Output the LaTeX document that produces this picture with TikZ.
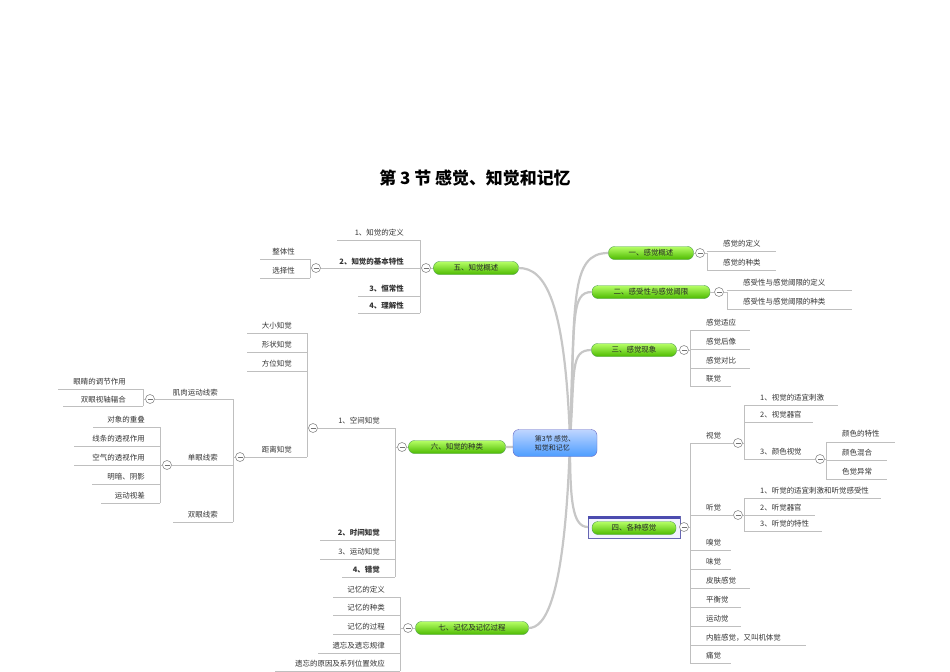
\documentclass[tikz,border=0pt]{standalone}
\usepackage{fontspec}
\setmainfont{Noto Sans CJK SC}
\newfontfamily\titlefont{Noto Sans CJK SC}
\begin{document}
\begin{tikzpicture}[x=1bp,y=-1bp,
  lbl/.style={font=\fontsize{7.5}{9}\selectfont,inner sep=0pt,text=black!80},
  bl/.style={lbl,font=\fontsize{7.5}{9}\selectfont\bfseries},
  uline/.style={draw=black!25,line width=0.6bp},
  mcirc/.style={circle,draw=black!45,fill=white,minimum size=9bp,inner sep=0pt,line width=0.6bp},
  pill/.style={rounded corners=6bp,draw=green!45!black!70,line width=0.4bp,top color=green!30!lime!60,bottom color=green!55!black!60!lime,minimum height=13bp,inner sep=1bp,font=\fontsize{7.5}{9}\selectfont,text=black!85},
  trunk/.style={draw=black!22,line width=2.2bp}]
\newcommand\lR[4]{\node[lbl,anchor=west] (#1) at (#2,#3) {#4};}
\newcommand\lL[4]{\node[lbl,anchor=east] (#1) at (#2,#3) {#4};}
\newcommand\bL[4]{\node[bl,anchor=east] (#1) at (#2,#3) {#4};}
\newcommand\uln[3]{\draw[uline] (#1,#3)--(#2,#3);}
\newcommand\mc[3]{\node[mcirc] (#1) at (#2,#3) {};\draw[black!55,line width=0.6bp] ([xshift=-2.5bp]#1.center)--([xshift=2.5bp]#1.center);}
\useasboundingbox (0,0) rectangle (950,672);
\fill[white] (0,0) rectangle (950,672);
\node[font=\titlefont\fontsize{17}{20}\selectfont\bfseries] (title) at (475,178) {第 3 节 感觉、知觉和记忆};
% center
\coordinate (hub) at (570,440);
% pills
\node[pill,minimum width=85bp] (p1) at (651,253) {一、感觉概述};
\node[pill,minimum width=118bp] (p2) at (651,292) {二、感受性与感觉阈限};
\node[pill,minimum width=85bp] (p3) at (634,350) {三、感觉现象};
\draw[draw=blue!50!black!60,line width=0.8bp,fill=blue!5] (588,516) rectangle (680,538);
\fill[blue!55!black!70] (588,516) rectangle (680,519);
\node[pill,minimum width=84bp] (p4) at (634,528) {四、各种感觉};
\node[pill,minimum width=85bp] (p5) at (476,268) {五、知觉概述};
\node[pill,minimum width=97bp] (p6) at (457,447) {六、知觉的种类};
\node[pill,minimum width=113bp] (p7) at (472,628) {七、记忆及记忆过程};
\begin{scope}[on background layer/.style={}]
\draw[trunk] (hub) .. controls (575,300) and (570,253) .. (p1.west);
\draw[trunk] (hub) .. controls (575,320) and (570,292) .. (p2.west);
\draw[trunk] (hub) .. controls (575,370) and (570,350) .. (p3.west);
\draw[trunk] (hub) .. controls (570,500) and (572,527) .. (588,527);
\draw[trunk] (hub) .. controls (565,300) and (545,268) .. (p5.east);
\draw[trunk] (hub) .. controls (540,445) and (520,447) .. (p6.east);
\draw[trunk] (hub) .. controls (565,600) and (545,628) .. (p7.east);
\end{scope}
\node[rounded corners=6bp,draw=blue!60!black!60,top color=cyan!35!blue!25,bottom color=blue!55!cyan!70,minimum width=84bp,minimum height=27bp,align=left,font=\fontsize{7}{9}\selectfont,text=black!85,inner sep=2bp] (c) at (555,443) {第3节 感觉、\\知觉和记忆};
% ---- group 1
\mc{m1}{700}{253}
\draw[uline] (p1.east)--(m1.west); \draw[uline] (m1.east)--(707,253)--(707,270);
\lR{a11}{723}{244}{感觉的定义}\uln{707}{776}{251}
\lR{a12}{723}{263}{感觉的种类}\uln{707}{776}{270}
% ---- group 2
\mc{m2}{719}{292}
\draw[uline] (m2.east)--(727,292)--(727,309); \draw[uline] (p2.east)--(m2.west);
\lR{a21}{743}{283}{感受性与感觉阈限的定义}\uln{727}{852}{290}
\lR{a22}{743}{302}{感受性与感觉阈限的种类}\uln{727}{852}{309}
% ---- group 3
\mc{m3}{684}{350}
\draw[uline] (m3.east)--(690,350); \draw[uline] (690,330)--(690,386); \draw[uline] (p3.east)--(m3.west);
\lR{a31}{706}{323}{感觉适应}\uln{690}{750}{330}
\lR{a32}{706}{342}{感觉后像}\uln{690}{750}{349}
\lR{a33}{706}{361}{感觉对比}\uln{690}{750}{368}
\lR{a34}{706}{379}{联觉}\uln{690}{731}{386}
% ---- group 4
\mc{m4}{684}{527}
\draw[uline] (m4.east)--(690,527); \draw[uline] (690,443)--(690,663);
\lR{a41}{706}{436}{视觉}\mc{m41}{738}{443}\draw[uline] (690,443)--(m41.west);
\draw[uline] (m41.east)--(744,443); \draw[uline] (744,405)--(744,459);
\lR{a411}{760}{398}{1、视觉的适宜刺激}\uln{744}{838}{405}
\lR{a412}{760}{415}{2、视觉器官}\uln{744}{813}{422}
\lR{a413}{760}{452}{3、颜色视觉}\mc{m413}{820}{459}\draw[uline] (744,459)--(m413.west);
\draw[uline] (m413.east)--(826,459); \draw[uline] (826,442)--(826,479);
\node[lbl,anchor=west] (a4131) at (842,434) {颜色的特性};\uln{826}{895}{442}
\node[lbl,anchor=west] (a4132) at (842,453) {颜色混合};\uln{826}{887}{460}
\node[lbl,anchor=west] (a4133) at (842,472) {色觉异常};\uln{826}{887}{479}
\lR{a42}{706}{508}{听觉}\mc{m42}{738}{515}\draw[uline] (690,515)--(m42.west);
\draw[uline] (m42.east)--(744,515); \draw[uline] (744,498)--(744,531);
\lR{a421}{760}{491}{1、听觉的适宜刺激和听觉感受性}\uln{744}{881}{498}
\lR{a422}{760}{508}{2、听觉器官}\uln{744}{815}{515}
\lR{a423}{760}{524}{3、听觉的特性}\uln{744}{822}{531}
\lR{a43}{706}{543}{嗅觉}\uln{690}{731}{550}
\lR{a44}{706}{562}{味觉}\uln{690}{731}{569}
\lR{a45}{706}{581}{皮肤感觉}\uln{690}{750}{588}
\lR{a46}{706}{600}{平衡觉}\uln{690}{741}{607}
\lR{a47}{706}{619}{运动觉}\uln{690}{741}{626}
\lR{a48}{706}{638}{内脏感觉，又叫机体觉}\uln{690}{806}{645}
\lR{a49}{706}{656}{痛觉}\uln{690}{731}{663}
% ---- group 5
\mc{m5}{426}{268}
\draw[uline] (p5.west)--(m5.east); \draw[uline] (420,240)--(420,313);
\lL{b51}{404}{233}{1、知觉的定义}\uln{337}{420}{240}
\bL{b52}{404}{262}{2、知觉的基本特性}\mc{m52}{316}{268}\draw[uline] (m52.east)--(m5.west);
\draw[uline] (m52.west)--(310,268); \draw[uline] (310,259)--(310,278);
\lL{b521}{295}{252}{整体性}\uln{260}{310}{259}
\lL{b522}{295}{271}{选择性}\uln{260}{310}{278}
\bL{b53}{404}{289}{3、恒常性}\uln{358}{420}{296}
\bL{b54}{404}{306}{4、理解性}\uln{358}{420}{313}
% ---- group 6
\mc{m6}{402}{447}
\draw[uline] (p6.west)--(m6.east); \draw[uline] (m6.west)--(395,447); \draw[uline] (395,428)--(395,577);
\lL{b61}{380}{421}{1、空间知觉}\mc{m61}{313}{428}\draw[uline] (m61.east)--(395,428);
\draw[uline] (m61.west)--(307,428); \draw[uline] (307,333)--(307,457);
\lL{b611}{292}{326}{大小知觉}\uln{247}{307}{333}
\lL{b612}{292}{345}{形状知觉}\uln{247}{307}{352}
\lL{b613}{292}{364}{方位知觉}\uln{247}{307}{371}
\lL{b614}{292}{450}{距离知觉}\mc{m614}{240}{457}\draw[uline] (m614.east)--(307,457);
\draw[uline] (m614.west)--(233,457); \draw[uline] (233,399)--(233,522);
\lL{b6141}{218}{393}{肌肉运动线索}\mc{m6141}{150}{399}\draw[uline] (m6141.east)--(233,399);
\draw[uline] (m6141.west)--(143,399); \draw[uline] (143,389)--(143,406);
\lL{b61411}{126}{382}{眼睛的调节作用}\uln{58}{143}{389}
\lL{b61412}{126}{400}{双眼视轴辐合}\uln{63}{143}{406}
\lL{b6142}{218}{458}{单眼线索}\mc{m6142}{167}{465}\draw[uline] (m6142.east)--(233,465);
\draw[uline] (m6142.west)--(160,465); \draw[uline] (160,427)--(160,503);
\lL{b61421}{145}{420}{对象的重叠}\uln{93}{160}{427}
\lL{b61422}{145}{439}{线条的透视作用}\uln{74}{160}{446}
\lL{b61423}{145}{458}{空气的透视作用}\uln{74}{160}{465}
\lL{b61424}{145}{477}{明暗、阴影}\uln{92}{160}{484}
\lL{b61425}{145}{496}{运动视差}\uln{101}{160}{503}
\lL{b6143}{218}{515}{双眼线索}\uln{173}{233}{522}
\bL{b62}{380}{533}{2、时间知觉}\uln{320}{395}{540}
\lL{b63}{380}{552}{3、运动知觉}\uln{320}{395}{559}
\bL{b64}{380}{570}{4、错觉}\uln{342}{395}{577}
% ---- group 7
\mc{m7}{408}{628}
\draw[uline] (p7.west)--(m7.east); \draw[uline] (m7.west)--(400,628); \draw[uline] (400,597)--(400,671);
\lL{b71}{385}{590}{记忆的定义}\uln{333}{400}{597}
\lL{b72}{385}{608}{记忆的种类}\uln{333}{400}{615}
\lL{b73}{385}{627}{记忆的过程}\uln{333}{400}{634}
\lL{b74}{385}{646}{遗忘及遗忘规律}\uln{318}{400}{653}
\lL{b75}{385}{664}{遗忘的原因及系列位置效应}\uln{275}{400}{671}
\end{tikzpicture}
\end{document}
